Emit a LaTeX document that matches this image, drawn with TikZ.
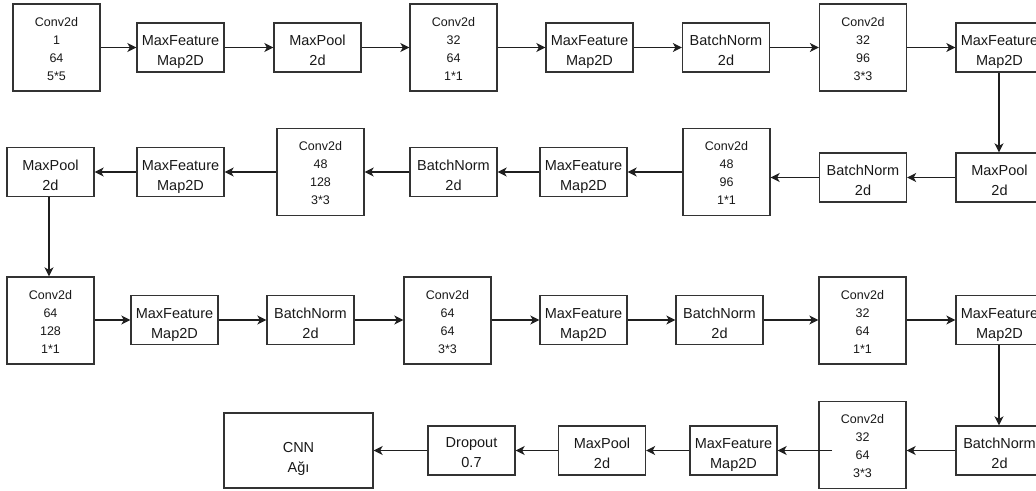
\documentclass[tikz,border=0pt]{standalone}
\usepackage{fontspec}
\setmainfont{Liberation Sans}
\usetikzlibrary{arrows.meta}
\newcommand\tb[2]{\raisebox{-#1}[\height][\depth]{\begin{tabular}{@{}c@{}}#2\end{tabular}}}
\begin{document}
\begin{tikzpicture}[x=1pt,y=-1pt,
  box/.style={draw=black!80, line width=1.3pt, fill=white, inner sep=0pt, text=black!90},
  conv/.style={box, minimum width=87pt, minimum height=87pt, font=\fontsize{12.5}{18}\selectfont},
  sm/.style={box, minimum width=87pt, minimum height=49pt, font=\fontsize{14.5}{20}\selectfont},
  arr/.style={draw=black!88, line width=1.3pt, -{Stealth[length=9pt,width=9pt,inset=2.5pt]}},
  ln/.style={draw=black!88, line width=1.3pt}]
\clip (0,0) rectangle (1036,490);
\fill[white] (0,0) rectangle (1036,490);
% Row 1
\node[conv] (cA) at (56.5,47.5) {\tb{2pt}{Conv2d\\1\\64\\5*5}};
\node[sm] (m1) at (180.5,47.5) {\tb{4pt}{MaxFeature\\Map2D}};
\node[sm] (p1) at (317.5,47.5) {\tb{4pt}{MaxPool\\2d}};
\node[conv] (cB) at (453.5,47.5) {\tb{2pt}{Conv2d\\32\\64\\1*1}};
\node[sm] (m2) at (589.5,47.5) {\tb{4pt}{MaxFeature\\Map2D}};
\node[sm] (b1) at (726,47.5) {\tb{4pt}{BatchNorm\\2d}};
\node[conv] (cC) at (863,47.5) {\tb{2pt}{Conv2d\\32\\96\\3*3}};
\node[sm] (m3) at (999.5,47.5) {\tb{4pt}{MaxFeature\\Map2D}};
% Row 2
\node[sm] (p2) at (999.5,177.5) {\tb{4pt}{MaxPool\\2d}};
\node[sm] (b2) at (863,177.5) {\tb{4pt}{BatchNorm\\2d}};
\node[conv] (cD) at (726.5,172) {\tb{2pt}{Conv2d\\48\\96\\1*1}};
\node[sm] (m4) at (583.5,172) {\tb{4pt}{MaxFeature\\Map2D}};
\node[sm] (b3) at (453.5,172) {\tb{4pt}{BatchNorm\\2d}};
\node[conv] (cE) at (320.5,172) {\tb{2pt}{Conv2d\\48\\128\\3*3}};
\node[sm] (m5) at (180.5,172) {\tb{4pt}{MaxFeature\\Map2D}};
\node[sm] (p3) at (50.5,172) {\tb{4pt}{MaxPool\\2d}};
% Row 3
\node[conv] (cF) at (50.5,320.5) {\tb{2pt}{Conv2d\\64\\128\\1*1}};
\node[sm] (m6) at (174.5,320) {\tb{4pt}{MaxFeature\\Map2D}};
\node[sm] (b4) at (310.5,320) {\tb{4pt}{BatchNorm\\2d}};
\node[conv] (cG) at (447.5,320.5) {\tb{2pt}{Conv2d\\64\\64\\3*3}};
\node[sm] (m7) at (583.5,320) {\tb{4pt}{MaxFeature\\Map2D}};
\node[sm] (b5) at (719.5,320) {\tb{4pt}{BatchNorm\\2d}};
\node[conv] (cH) at (862.5,320.5) {\tb{2pt}{Conv2d\\32\\64\\1*1}};
\node[sm] (m8) at (999.5,320) {\tb{4pt}{MaxFeature\\Map2D}};
% Row 4
\node[sm] (b6) at (999.5,450.5) {\tb{4pt}{BatchNorm\\2d}};
\node[conv] (cI) at (862.5,445) {\tb{2pt}{Conv2d\\32\\64\\3*3}};
\node[sm] (m9) at (733.5,450.5) {\tb{4pt}{MaxFeature\\Map2D}};
\node[sm] (p4) at (602,450.5) {\tb{4pt}{MaxPool\\2d}};
\node[sm] (dr) at (471.5,450.5) {\tb{3pt}{Dropout\\0.7}};
\node[box, minimum width=149pt, minimum height=75pt, font=\fontsize{14.5}{20}\selectfont] (cnn) at (298.5,450.5) {\tb{8pt}{CNN\\Ağı}};
% Row 1 arrows
\draw[arr] (cA.east |- m1.west) -- (m1.west);
\draw[arr] (m1) -- (p1);
\draw[arr] (p1.east) -- (p1.east -| cB.west);
\draw[arr] (cB.east |- m2.west) -- (m2.west);
\draw[arr] (m2) -- (b1);
\draw[arr] (b1.east) -- (b1.east -| cC.west);
\draw[arr] (cC.east |- m3.west) -- (m3.west);
\draw[arr] (m3.south -| 999,0) -- (p2.north -| 999,0);
% Row 2 arrows
\draw[arr] (p2) -- (b2);
\draw[arr] (b2.west) -- (b2.west -| cD.east);
\draw[arr] (cD.west |- m4.east) -- (m4.east);
\draw[arr] (m4) -- (b3);
\draw[arr] (b3.west) -- (b3.west -| cE.east);
\draw[arr] (cE.west |- m5.east) -- (m5.east);
\draw[arr] (m5) -- (p3);
\draw[arr] (p3.south -| 49,0) -- (cF.north -| 49,0);
% Row 3 arrows
\draw[arr] (cF.east |- m6.west) -- (m6.west);
\draw[arr] (m6) -- (b4);
\draw[arr] (b4.east) -- (b4.east -| cG.west);
\draw[arr] (cG.east |- m7.west) -- (m7.west);
\draw[arr] (m7) -- (b5);
\draw[arr] (b5.east) -- (b5.east -| cH.west);
\draw[arr] (cH.east |- m8.west) -- (m8.west);
\draw[arr] (m8.south -| 999,0) -- (b6.north -| 999,0);
% Row 4 arrows
\draw[arr] (b6.west) -- (b6.west -| cI.east);
\coordinate (s9) at (832,450.5);
\draw[arr] (s9) -- (m9.east);
\draw[arr] (m9) -- (p4);
\draw[arr] (p4) -- (dr);
\draw[arr] (dr.west) -- (dr.west -| cnn.east);
\end{tikzpicture}
\end{document}
